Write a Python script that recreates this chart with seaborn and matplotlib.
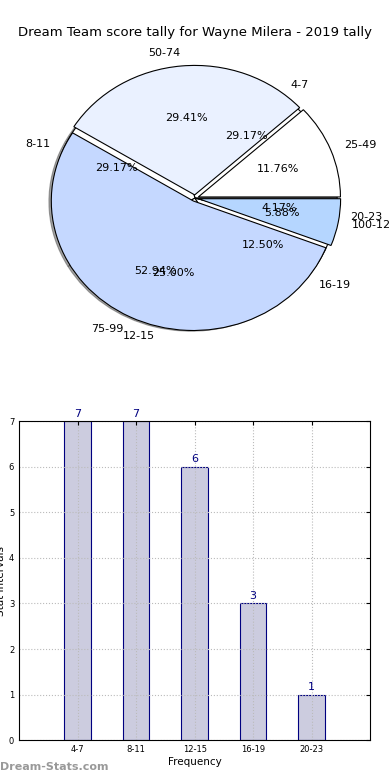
import matplotlib
matplotlib.use("Agg")
import matplotlib.pyplot as plt
import seaborn as sns
import pandas as pd

# score tally pie
score_labels = ["25-49", "50-74", "75-99", "100-124"]
score_counts = [2, 5, 9, 1]
score_colors = ["#ffffff", "#eaf1ff", "#c5d8ff", "#b5d6ff"]

# stat interval pie / bars
interval_labels = ["4-7", "8-11", "12-15", "16-19", "20-23"]
interval_counts = [7, 7, 6, 3, 1]

sns.set_style("white")
plt.rcParams["font.family"] = ["DejaVu Sans"]
plt.rcParams["text.color"] = "black"
plt.rcParams["axes.labelcolor"] = "black"
plt.rcParams["xtick.color"] = "black"
plt.rcParams["ytick.color"] = "black"

fig = plt.figure(figsize=(3.9, 7.8), dpi=100)
fig.suptitle("Dream Team score tally for Wayne Milera - 2019 tally", fontsize=9.5, y=0.967)

# --- pie chart ---
ax1 = fig.add_axes([0.0445, 0.5385, 0.911, 0.415])
ax1.pie(interval_counts, labels=interval_labels, autopct="%.2f%%",
        colors=["#ffffff"] * 5, shadow=True,
        wedgeprops=dict(edgecolor="black", linewidth=0.8),
        textprops=dict(fontsize=8))
ax1.pie(score_counts, labels=score_labels, autopct="%.2f%%",
        colors=score_colors, explode=[0.025] * 4,
        wedgeprops=dict(edgecolor="black", linewidth=0.8),
        textprops=dict(fontsize=8))
ax1.set_aspect("auto")
ax1.set_xlim(-1.25, 1.25)
ax1.set_ylim(-1.25, 1.25)
ax1.axis("off")

# --- bar chart ---
df = pd.DataFrame({"interval": interval_labels, "count": interval_counts})
ax2 = fig.add_axes([0.049, 0.051, 0.90, 0.409])
sns.barplot(data=df, x="interval", y="count", ax=ax2, width=0.45,
            color="#ccccdf", edgecolor="#000080", linewidth=0.8, saturation=1)
for i, v in enumerate(interval_counts):
    ax2.text(i, v + 0.05, str(v), ha="center", va="bottom", color="#000080", fontsize=8)
ax2.set_xlim(-1, 5)
ax2.set_ylim(0, 7)
ax2.set_xlabel("Frequency", fontsize=7.5, labelpad=2)
ax2.set_ylabel("Stat Intervals", fontsize=7.5, labelpad=2)
ax2.tick_params(labelsize=6, direction="in", top=True, right=True, length=3)
ax2.grid(True, color="#bbbbbb", linestyle=":", linewidth=0.8)
ax2.set_axisbelow(False)
for s in ax2.spines.values():
    s.set_color("black")
    s.set_linewidth(0.8)
    s.set_zorder(10)

fig.text(0.0, 0.013, "Dream-Stats.com", color="#999999", fontsize=8, fontweight="bold")

fig.savefig("out.png", dpi=100)
